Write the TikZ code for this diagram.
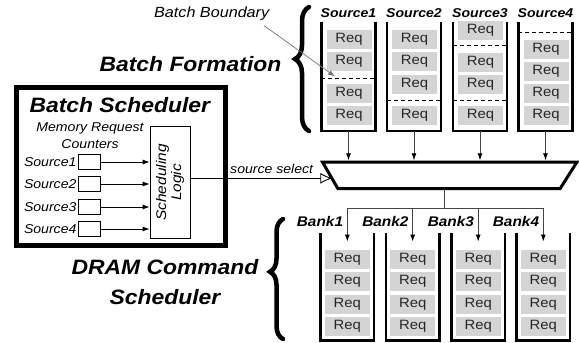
\documentclass[tikz,border=0pt]{standalone}
\usepackage{fontspec}
\setmainfont{Liberation Sans}[FakeStretch=1.1]
\usetikzlibrary{arrows.meta,decorations.pathreplacing}
\definecolor{reqgray}{HTML}{D4D4D4}
\definecolor{linegray}{HTML}{444444}
\tikzset{
  wall/.style={line width=2.5pt, black, line join=miter},
  qbox/.style={draw=none, minimum width=54pt, minimum height=109pt, inner sep=0pt},
  bankq/.style={draw=none, minimum width=53.3pt, minimum height=107.2pt, inner sep=0pt},
  req/.style={fill=reqgray, minimum width=45pt, minimum height=19pt, inner sep=0pt, text=black!85, font=\fontsize{13.5}{14}\selectfont},
  bound/.style={line width=0.9pt, dash pattern=on 4pt off 3pt},
  titletext/.style={font=\fontsize{20.8}{30}\selectfont\bfseries\itshape, align=center, inner sep=0pt},
  srclab/.style={font=\fontsize{12.8}{14}\selectfont\bfseries\itshape, inner sep=0pt},
  banklab/.style={font=\fontsize{14}{16}\selectfont\bfseries\itshape, inner sep=0pt},
  ital/.style={font=\fontsize{12.8}{15}\selectfont\itshape, inner sep=1.5pt},
  feed/.style={draw=linegray, line width=0.8pt, -{Latex[length=7pt,width=5pt,color=black]}},
  plain/.style={draw=linegray, line width=0.8pt},
  ctr/.style={draw, line width=0.7pt, minimum width=22pt, minimum height=14.5pt, inner sep=0pt},
  bracestyle/.style={decorate, line width=4.5pt, line cap=round},
  pointer/.style={draw=black!55, line width=0.7pt, -{Latex[length=7pt,width=5pt]}},
}
\begin{document}
\begin{tikzpicture}[x=1pt,y=-1pt]
\useasboundingbox (0,0) rectangle (579,343);

% ---------- Source queues ----------
\foreach \n/\x in {1/348.5,2/414,3/480,4/545.5}{
  \node[qbox] (s\n) at (\x,76.5) {};
  \draw[wall] (s\n.north west) -- (s\n.south west) -- (s\n.south east) -- (s\n.north east);
  \node[srclab] (sl\n) at (\x,13) {Source\n};
}
\foreach \y [count=\i] in {39.2,61.3,93.7,115.2} \node[req] (s1r\i) at (349,\y) {Req};
\foreach \y [count=\i] in {39.2,61.3,84.1,115.2} \node[req] (s2r\i) at (414.5,\y) {Req};
\foreach \y [count=\i] in {30,62.2,84.1,115.2} \node[req] (s3r\i) at (480.5,\y) {Req};
\foreach \y [count=\i] in {49.3,71.3,93.2,115.2} \node[req] (s4r\i) at (546,\y) {Req};
\draw[bound] (s1.west |- 0,78.7) -- (s1.east |- 0,78.7);
\draw[bound] (s2.west |- 0,100) -- (s2.east |- 0,100);
\draw[bound] (s3.west |- 0,45.7) -- (s3.east |- 0,45.7);
\draw[bound] (s3.west |- 0,100) -- (s3.east |- 0,100);
\draw[bound] (s4.west |- 0,32.3) -- (s4.east |- 0,32.3);

% ---------- Mux ----------
\node[draw=none, minimum width=254pt, minimum height=26pt, inner sep=0pt] (mux) at (449.7,175.3) {};
\draw[line width=3pt, line join=miter, fill=white] (mux.north west) -- (mux.north east) -- ([xshift=-16.7pt]mux.south east) -- ([xshift=15.3pt]mux.south west) -- cycle;
\foreach \n in {1,2,3,4}
  \draw[feed, shorten >=1.8pt] (s\n.south) -- (s\n.south |- mux.north);

% ---------- Bank queues ----------
\foreach \n/\x in {1/347.3,2/412.7,3/478.2,4/543.3}{
  \node[bankq] (b\n) at (\x,286.9) {};
  \draw[wall] (b\n.north west) -- (b\n.south west) -- (b\n.south east) -- (b\n.north east);
  \foreach \y [count=\i] in {259.5,281.5,304,326} \node[req] (b\n r\i) at (\x,\y) {Req};
  \node[banklab, anchor=east] (bl\n) at ([xshift=-4pt]b\n.north |- 0,221.7) {Bank\n};
}
\coordinate (split) at (444.3,208.3);
\draw[plain] (split |- mux.south) -- (split);
\draw[plain] (b1.north |- split) -- (b4.north |- split);
\foreach \n in {1,2,3,4}
  \draw[feed] (b\n.north |- split) -- ([yshift=-8.4pt]b\n.north);

% ---------- Batch scheduler ----------
\node[draw, line width=5pt, minimum width=208.7pt, minimum height=158.3pt, inner sep=0pt] (bs) at (120.65,166.65) {};
\node[titletext] (bstitle) at (119.8,105) {Batch Scheduler};
\node[ital, align=center, font=\fontsize{12.8}{17.3}\selectfont\itshape] (mrc) at (90,135.5) {Memory Request\\Counters};
\node[draw, line width=0.8pt, minimum width=40pt, minimum height=111.6pt, inner sep=0pt] (sched) at (170,182.5) {};
\node[rotate=90, align=center, font=\fontsize{14}{15}\selectfont\itshape] (schedtxt) at (sched.center) {Scheduling\\Logic};
\foreach \n/\y in {1/162,2/184,3/207,4/229}{
  \node[ctr] (c\n) at (89.5,\y) {};
  \node[ital, anchor=east] (cl\n) at (c\n.west) {Source\n};
  \draw[feed, draw=black] (c\n.east) -- (c\n.east -| sched.west);
}
\coordinate (selin) at (332.3,178.3);
\draw[line width=0.9pt, -{Latex[open, length=12pt, width=11pt]}] (sched.east |- selin) -- (selin);
\node[ital] (sslab) at (271.7,169.3) {source select};

% ---------- Titles and braces ----------
\node[titletext] (bf) at (190.5,63.8) {Batch Formation};
\node[titletext] (dram) at (165,281.7) {DRAM Command\\Scheduler};
\draw[bracestyle, decoration={brace, amplitude=14pt, aspect=0.58}] (309,131) -- (309,7);
\draw[bracestyle, decoration={brace, amplitude=13pt, aspect=0.56}] (283,339) -- (283,219);

\node[ital, font=\fontsize{14.7}{16}\selectfont\itshape] (bb) at (211.7,14) {Batch Boundary};
\coordinate (bbend) at (335,76.5);
\draw[pointer] ([shift={(-7pt,-3pt)}]bb.south east) -- (bbend);
\end{tikzpicture}
\end{document}
